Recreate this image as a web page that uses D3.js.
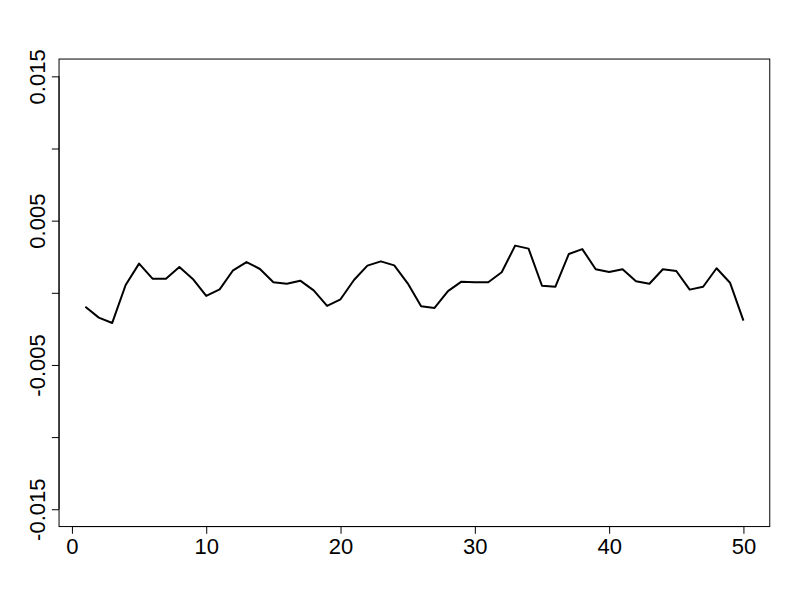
<!DOCTYPE html>
<html>
<head>
<meta charset="utf-8">
<script src="https://cdn.jsdelivr.net/npm/d3@7"></script>
<style>
  body { margin: 0; background: #fff; }
  text { font-family: "Liberation Sans", Arial, sans-serif; }
</style>
</head>
<body>
<div id="chart"></div>
<script>
// series values, index 1..50
let values = [
  -0.00096, -0.00172, -0.00209, 0.00054, 0.00202, 0.00098, 0.00098, 0.00179, 0.00096, -0.00022,
  0.00024, 0.00156, 0.00213, 0.00165, 0.00073, 0.00063, 0.00084, 0.00017, -0.00091, -0.00045,
  0.00089, 0.00188, 0.00218, 0.0019, 0.00066, -0.00094, -0.00105, 0.00012, 0.00077, 0.00073,
  0.00073, 0.00142, 0.00327, 0.00306, 0.00049, 0.00042, 0.00269, 0.00303, 0.00163, 0.00144,
  0.00163, 0.0008, 0.00063, 0.00163, 0.00151, 0.00022, 0.00042, 0.0017, 0.0007, -0.00193
]
let xTicks = [0, 10, 20, 30, 40, 50]
let yTicks = [-0.015, -0.01, -0.005, 0, 0.005, 0.01, 0.015]
let yLabels = ['-0.015', '-0.005', '0.005', '0.015']

var width = 800
var height = 600
// R default margins, 14.4px per line
var mLeft = 59.04, mRight = 769.76, mTop = 59.04, mBottom = 526.56

var x = d3.scaleLinear()
  .domain([1 - 0.04 * 49, 50 + 0.04 * 49])
  .range([mLeft, mRight])

var y = d3.scaleLinear()
  .domain([-0.015 - 0.04 * 0.03, 0.015 + 0.04 * 0.03])
  .range([mBottom, mTop])

var svg = d3.select('#chart').append('svg')
  .attr('width', width)
  .attr('height', height)

svg.append('rect')
  .attr('x', mLeft)
  .attr('y', mTop)
  .attr('width', mRight - mLeft)
  .attr('height', mBottom - mTop)
  .attr('fill', 'none')
  .attr('stroke', '#000')
  .attr('stroke-width', 1)

var line = d3.line()
  .x((d, i) => x(i + 1))
  .y(d => y(d))

svg.append('path')
  .datum(values)
  .attr('d', line)
  .attr('fill', 'none')
  .attr('stroke', '#000')
  .attr('stroke-width', 2)
  .attr('stroke-linejoin', 'round')

// x axis
var xAxis = d3.axisBottom(x)
  .tickValues(xTicks)
  .tickSize(7.2)
  .tickFormat(d3.format('d'))

var gx = svg.append('g')
  .attr('transform', 'translate(0,' + mBottom + ')')
  .call(xAxis)
gx.select('.domain')
  .attr('d', 'M' + x(0) + ',0H' + x(50))
gx.selectAll('text')
  .attr('dy', null)
  .attr('y', 27.5)
  .style('font-size', '22px')
  .attr('fill', '#000')

// y axis, R skips the labels that would overlap
var yAxis = d3.axisLeft(y)
  .tickValues(yTicks)
  .tickSize(7.2)
  .tickFormat(d => {
    let s = d3.format('.3f')(d).replace('\u2212', '-')
    return yLabels.includes(s) ? s : ''
  })

var gy = svg.append('g')
  .attr('transform', 'translate(' + mLeft + ',0)')
  .call(yAxis)
gy.select('.domain')
  .attr('d', 'M0,' + y(-0.015) + 'V' + y(0.015))
gy.selectAll('text')
  .attr('x', null)
  .attr('dy', null)
  .attr('text-anchor', 'middle')
  .attr('transform', 'translate(-14.4,0) rotate(-90)')
  .style('font-size', '22px')
  .attr('fill', '#000')

svg.selectAll('.tick line').attr('stroke', '#000')
svg.selectAll('.domain').attr('stroke', '#000')
</script>
</body>
</html>
